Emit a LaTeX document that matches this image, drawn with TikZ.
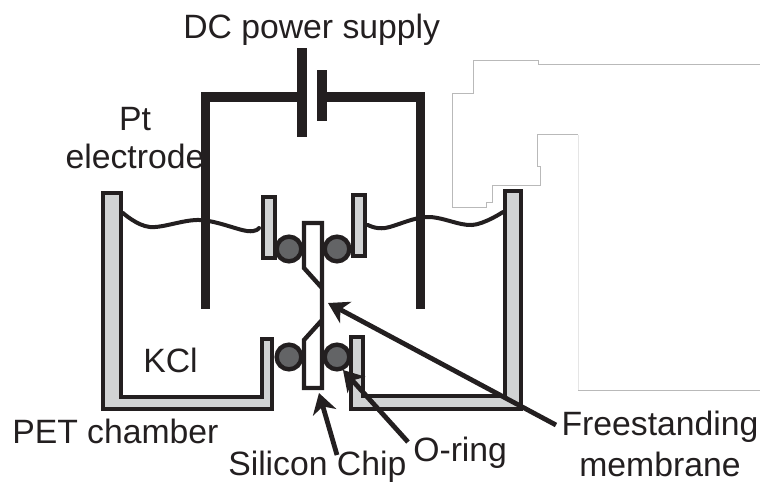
\documentclass[tikz,border=0pt]{standalone}
\usepackage{fontspec}
\setmainfont{Liberation Sans}
\usepackage{xcolor}
\usetikzlibrary{arrows.meta,calc}
\definecolor{ink}{RGB}{35,31,32}
\definecolor{petgray}{RGB}{209,211,212}
\definecolor{ringgray}{RGB}{99,100,102}
\tikzset{
  lbl/.style={font=\fontsize{25.3}{27}\selectfont,text=ink,inner sep=0pt,align=center},
  wire/.style={draw=ink,line width=7pt},
  pet/.style={draw=ink,fill=petgray,line width=3.3pt},
  ring/.style={circle,draw=ink,fill=ringgray,line width=3.3pt,minimum size=18.5pt,inner sep=0pt},
  chip/.style={draw=ink,fill=white,line width=3.3pt},
  water/.style={draw=ink,line width=3pt,line cap=round},
  fl/.style={draw=ink,line width=3.6pt,-{Stealth[length=15pt,width=18pt,inset=4.5pt]}},
  trace/.style={draw=gray!55,line width=0.5pt},
}

\begin{document}
\begin{tikzpicture}[x=0.75pt,y=-0.75pt]
\useasboundingbox (0,0) rectangle (760,483);
\draw[trace] (760,64.5) -- (538,64.5) -- (538,60) -- (473.5,60) -- (473.5,93) -- (452.5,93)
  -- (452.5,207) -- (486,207) -- (486,202) -- (492.5,202) -- (492.5,185.5) -- (540.5,185.5)
  -- (540.5,166.5) -- (537.5,166.5) -- (537.5,134.5) -- (578,134.5);
\draw[trace,draw=gray!20] (578,134.5) -- (578,390);
\draw[trace] (578,390) -- (760,390);
\node[lbl,anchor=base west] (supply) at (183,38) {DC power supply};
\node[lbl] (electrode) at (135,138) {Pt\\[2pt]electrode};
\node[lbl,anchor=base west] (kcl) at (143,372) {KCl};
\node[lbl,anchor=base west] (pet) at (12,443) {PET chamber};
\node[lbl,anchor=base west] (silicon) at (228,475.5) {Silicon Chip};
\node[lbl,anchor=base west] (oring) at (413,461) {O-ring};
\node[lbl] (membrane) at (660,444) {Freestanding\\[4pt]membrane};
\draw[pet] (103,193) -- (121,193) -- (121,397) -- (262,397) -- (262,339) -- (272,339) -- (272,409) -- (103,409) -- cycle;
\draw[pet] (351,409) -- (351,337) -- (363,337) -- (363,396) -- (505,396) -- (505,191) -- (521,191) -- (521,409) -- cycle;
\draw[pet] (263,197) rectangle (275,258);
\draw[pet] (353,195) rectangle (365,256);
\node[ring] (ringul) at (289,249) {};
\node[ring] (ringur) at (337,249) {};
\node[ring] (ringll) at (289,357) {};
\node[ring] (ringlr) at (337,357) {};
\draw[chip] (304,223) -- (322,223) -- (322,388) -- (304,388) -- (304,340) -- (322,320)
  -- (322,288) -- (304,268) -- cycle;
\draw[water] plot[smooth,tension=0.6] coordinates {(123,213) (150,227) (200,220) (247,231) (259,228)};
\draw[water] plot[smooth,tension=0.6] coordinates {(368,225) (385,228) (427,217) (472,225) (503,212)};
\coordinate (platea) at (302,97);
\coordinate (plateb) at (322,97);
\coordinate (leftend) at (205.5,309);
\coordinate (rightend) at (420.5,309);
\draw[wire,line join=miter] (platea) -| (leftend);
\draw[wire,line join=miter] (plateb) -| (rightend);
\draw[wire] (302,48) -- (302,137);
\draw[wire] (322,70) -- (322,121);
\coordinate (chiptip) at (319,393);
\coordinate (chiptail) at (337,455);
\coordinate (ringtip) at (343,370);
\coordinate (ringtail) at (408,442);
\coordinate (memtip) at (328,303);
\coordinate (memtail) at (556,425);
\draw[fl] (chiptail) -- (chiptip);
\draw[fl] (ringtail) -- (ringtip);
\draw[fl] (memtail) -- (memtip);
\end{tikzpicture}
\end{document}
